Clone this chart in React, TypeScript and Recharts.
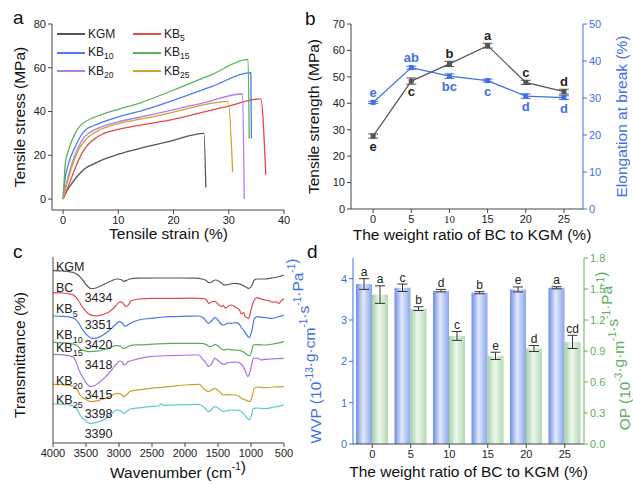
import React from "react";
import {
  LineChart, Line, BarChart, Bar, XAxis, YAxis, ErrorBar, LabelList, Legend, ReferenceDot,
} from "recharts";

const FONT = '"Liberation Sans", Arial, sans-serif';
const INK = "#444";
const BLUE = "#3f6fe4";
const GREEN = "#62ad62";

type Pt = [number, number];

// ---------- panel a: stress-strain curves (strain %, stress MPa)
const kgmCurve: Pt[] = [[0, 0], [0.5, 2.8], [1, 5], [1.6, 7.2], [2.5, 10.2], [4, 14], [5.5, 16], [7, 17.8], [10, 20.5], [14, 23.2], [19.5, 26.5], [25.5, 30], [25.85, 5.3]];
const kb5Curve: Pt[] = [[0, 0], [0.6, 3.5], [1.6, 10.2], [2.8, 17.8], [3.8, 22.5], [4.7, 25.4], [6, 28], [7, 29.5], [10, 31.8], [14, 33.8], [19.7, 36.3], [25, 39.5], [30, 42.5], [35.8, 45.8], [36.7, 11]];
const kb10Curve: Pt[] = [[0, 0], [0.3, 8], [1, 16.3], [2.2, 23.9], [3, 28], [4, 31.5], [5.5, 33.5], [7, 35], [10, 37.6], [14, 40.2], [19.7, 44.9], [27, 51.5], [34, 57.8], [34.1, 27.7]];
const kb15Curve: Pt[] = [[0, 0], [0.2, 8], [0.4, 16.3], [1, 22.4], [2.2, 30], [3, 33.2], [4, 35.3], [5.5, 37.2], [7, 38.6], [10, 41], [14, 44], [19.7, 49.5], [27, 57], [33.5, 63.8], [33.7, 27.7]];
const kb20Curve: Pt[] = [[0, 0], [0.5, 6], [1.6, 16.3], [2.8, 23.9], [3.8, 28.2], [4.7, 30.2], [7, 33], [10, 35.3], [14, 37.5], [19.5, 40.5], [25.4, 44], [32.5, 48], [32.8, 0]];
const kb25Curve: Pt[] = [[0, 0], [0.5, 5], [1.6, 14.8], [2.8, 22.4], [3.8, 26.3], [4.7, 28.6], [7, 32], [10, 34.5], [14, 36.5], [19.5, 39.4], [25.4, 43], [28, 44.2], [29.9, 44.6], [30.7, 12.3]];
const strainTicks = [0, 10, 20, 30, 40];
const stressTicks = [0, 20, 40, 60, 80];

// ---------- panel b: tensile strength / elongation vs BC ratio
const ratios = [0, 5, 10, 15, 20, 25];
const tensileStrength = [27.6, 48.4, 54.9, 61.8, 47.9, 44.4];
const tensileErr = [0.8, 1.2, 1.0, 0.9, 0.8, 0.9];
const elongation = [28.8, 38.2, 35.9, 34.7, 30.5, 30.1];
const elongationErr = [0.3, 0.4, 0.6, 0.4, 0.6, 0.5];
const tensileLetters = ["e", "c", "b", "a", "c", "d"];
const elongationLetters = ["e", "ab", "bc", "c", "d", "d"];
const tensileLetterSide = ["below", "below", "above", "above", "above", "above"];
const elongationLetterSide = ["above", "above", "below", "below", "below", "below"];
const strengthTicks = [0, 10, 20, 30, 40, 50, 60, 70];
const elongTicks = [0, 10, 20, 30, 40, 50];

// ---------- panel c: FTIR spectra (wavenumber, transmittance a.u.)
const kgmIR: Pt[] = [[4000, 86.2], [3850, 86], [3700, 85.3], [3620, 84], [3550, 81.5], [3480, 78.5], [3420, 77.2], [3350, 77.5], [3250, 79], [3120, 81], [3030, 82], [2960, 81.6], [2930, 80.8], [2880, 81.4], [2840, 82], [2700, 82.4], [2400, 82.5], [2100, 82.5], [1850, 82.4], [1740, 82], [1680, 81.3], [1640, 80.2], [1600, 80.5], [1540, 81.5], [1480, 80.8], [1420, 79.2], [1370, 79], [1320, 79.5], [1250, 79.8], [1180, 79.6], [1120, 78.8], [1060, 77.6], [1030, 77.3], [990, 78.5], [950, 81.5], [900, 82], [800, 82], [700, 82.4], [600, 83], [500, 84]];
const bcIR: Pt[] = [[4000, 75.2], [3850, 75], [3700, 74.2], [3620, 71.5], [3540, 67.3], [3440, 64.2], [3340, 63.5], [3240, 64.3], [3140, 65.8], [3050, 68.5], [2985, 70.6], [2940, 70], [2900, 68.3], [2870, 68.6], [2820, 71], [2700, 72], [2500, 72.3], [2200, 72.3], [1900, 72.4], [1720, 72.2], [1670, 71.5], [1645, 69.8], [1600, 70.5], [1550, 70.8], [1500, 69.5], [1450, 68.2], [1420, 68.8], [1390, 67.4], [1340, 68.5], [1300, 69], [1250, 68.2], [1200, 67.2], [1170, 66.2], [1150, 64.5], [1110, 65.2], [1090, 63.2], [1060, 62.6], [1040, 62.2], [1010, 65], [980, 69], [950, 71.5], [910, 72.7], [850, 72], [790, 71.5], [720, 71], [680, 70.4], [620, 70.6], [580, 69.8], [540, 71.2], [500, 72.3]];
const kb5IR: Pt[] = [[4000, 63.5], [3850, 63.3], [3700, 62.6], [3620, 60.5], [3560, 57], [3480, 53.8], [3410, 52.3], [3330, 52.6], [3240, 54], [3140, 56.5], [3060, 59], [2990, 60.7], [2950, 60], [2910, 58.3], [2870, 59], [2830, 59.8], [2700, 61.5], [2530, 62.3], [2230, 63.2], [1950, 63.4], [1800, 63.5], [1720, 62.5], [1680, 61], [1647, 59.8], [1600, 61], [1546, 62.7], [1500, 61.5], [1470, 60], [1420, 59], [1380, 59.5], [1330, 60], [1290, 59.8], [1240, 60.2], [1192, 59.8], [1160, 58.5], [1141, 57.3], [1110, 56.5], [1091, 55.3], [1060, 53.8], [1030, 52.7], [1000, 54.5], [975, 58], [950, 62.3], [900, 63.2], [820, 62.8], [750, 62.5], [690, 62.3], [600, 63], [500, 64]];
const kb10IR: Pt[] = [[4000, 50.3], [3850, 50.1], [3700, 49.6], [3620, 48.3], [3580, 46.8], [3500, 46], [3440, 45.7], [3340, 45.9], [3240, 46.5], [3130, 47.7], [3040, 48.7], [2980, 48.6], [2935, 47.3], [2880, 47.8], [2830, 48.7], [2700, 49.1], [2530, 49.3], [2230, 49.8], [1900, 49.8], [1750, 49.8], [1680, 49.2], [1621, 48.2], [1580, 48.6], [1546, 49.3], [1480, 48], [1420, 46.5], [1350, 46.8], [1243, 46.5], [1160, 46.2], [1100, 45.2], [1066, 44.3], [1020, 43.7], [990, 46], [965, 49], [900, 49.2], [788, 49], [650, 49.6], [511, 50.7], [500, 50.9]];
const kb15IR: Pt[] = [[4000, 44.3], [3850, 44.1], [3700, 43.2], [3650, 40.5], [3616, 37.3], [3560, 33.5], [3500, 30.2], [3440, 28.3], [3400, 28.3], [3300, 30.3], [3200, 33.2], [3111, 36.5], [3040, 39.5], [2985, 41], [2950, 40.5], [2925, 39], [2890, 39.5], [2860, 40.8], [2830, 41], [2700, 42.2], [2530, 43.2], [2230, 43.7], [1900, 44], [1800, 44], [1760, 43.2], [1723, 41.5], [1680, 40], [1647, 38.2], [1600, 39.5], [1546, 42.3], [1500, 41.2], [1445, 39.8], [1400, 39.3], [1350, 40.2], [1293, 40.3], [1240, 40.5], [1192, 40.3], [1150, 39.5], [1117, 38.2], [1080, 35.5], [1051, 33.2], [1020, 35], [990, 39], [965, 42.3], [900, 42.5], [850, 41.5], [788, 41.8], [700, 42], [600, 42.2], [511, 42.3], [500, 42.5]];
const kb20IR: Pt[] = [[4000, 29.3], [3850, 29.1], [3700, 28.5], [3630, 26.5], [3591, 24], [3500, 21.8], [3414, 20.7], [3330, 21.1], [3238, 22], [3130, 23.5], [3035, 24.8], [2980, 24.6], [2935, 23.2], [2880, 24.2], [2833, 25.8], [2700, 26.6], [2530, 27.3], [2227, 28.2], [2000, 29], [1788, 29.3], [1750, 28.5], [1723, 27.3], [1680, 26.3], [1647, 25.7], [1600, 26.5], [1546, 27.3], [1480, 25.8], [1420, 24], [1350, 24.2], [1243, 24], [1190, 23.5], [1141, 22.3], [1080, 21.5], [1015, 20.7], [985, 23], [950, 27.3], [900, 28], [788, 27.7], [650, 28], [511, 28.2], [500, 28.6]];
const kb25IR: Pt[] = [[4000, 19.5], [3850, 19.3], [3700, 18.7], [3630, 16.5], [3591, 14], [3500, 11], [3440, 9.8], [3340, 10.3], [3238, 11.5], [3130, 14], [3035, 16.5], [2980, 16.3], [2935, 14.8], [2880, 15.8], [2833, 17], [2700, 17.6], [2530, 18.2], [2400, 18.5], [2360, 19.6], [2330, 18.8], [2227, 19], [2000, 19.2], [1803, 19.3], [1760, 19], [1723, 18.2], [1680, 16.8], [1647, 15.7], [1600, 16.8], [1546, 18.2], [1480, 17], [1420, 15.7], [1350, 16.3], [1243, 16.5], [1180, 16.3], [1117, 14.8], [1060, 12.5], [1026, 11.5], [995, 13.5], [965, 17.2], [900, 17.5], [788, 17.2], [650, 18], [511, 19], [500, 19.3]];
const wnTicks = [4000, 3500, 3000, 2500, 2000, 1500, 1000, 500];
// sample labels [name, wavenumber, transmittance] and band labels
const irNameLabels: [string, number, number][] = [["KGM", 3955, 86], ["BC", 3955, 75.3], ["KB5", 3955, 64.8], ["KB10", 3955, 52], ["KB15", 3955, 45.5], ["KB20", 3955, 29], ["KB25", 3955, 19.5]];
const irBandLabels: [string, number, number][] = [["3434", 3310, 70.5], ["3351", 3310, 57.1], ["3420", 3310, 46.8], ["3418", 3310, 36.8], ["3415", 3310, 22.1], ["3398", 3310, 12.6], ["3390", 3310, 2.6]];

// ---------- panel d: WVP / OP bars
const wvp = [3.87, 3.78, 3.71, 3.66, 3.74, 3.78];
const wvpErr = [0.13, 0.09, 0.03, 0.025, 0.06, 0.025];
const op = [1.446, 1.31, 1.046, 0.853, 0.924, 0.988];
const opErr = [0.085, 0.018, 0.043, 0.035, 0.029, 0.064];
const wvpLetters = ["a", "c", "d", "b", "e", "a"];
const opLetters = ["a", "b", "c", "e", "d", "cd"];
const wvpTicks = [0, 1, 2, 3, 4];
const opTicks = [0, 0.3, 0.6, 0.9, 1.2, 1.5, 1.8];

const curvesA = [
  { name: "KGM", color: "#555555", data: kgmCurve },
  { name: "KB5", color: "#e24a4a", data: kb5Curve },
  { name: "KB10", color: "#4a7de8", data: kb10Curve },
  { name: "KB15", color: "#5db35d", data: kb15Curve },
  { name: "KB20", color: "#b07ee8", data: kb20Curve },
  { name: "KB25", color: "#cfa236", data: kb25Curve },
];

const spectra = [
  { name: "KGM", color: "#5a5a5a", data: kgmIR },
  { name: "BC", color: "#e04a4a", data: bcIR },
  { name: "KB5", color: "#4a78e6", data: kb5IR },
  { name: "KB10", color: "#5aab5a", data: kb10IR },
  { name: "KB15", color: "#a873e6", data: kb15IR },
  { name: "KB20", color: "#c9a02e", data: kb20IR },
  { name: "KB25", color: "#5cc9cc", data: kb25IR },
];

const tick = { fill: "#222", fontSize: 11, fontFamily: FONT };

const svgName = (name: string, size: number) => {
  const m = name.match(/^(KB)(\d+)$/);
  if (!m) return name;
  return [
    <tspan key="a">{m[1]}</tspan>,
    <tspan key="b" fontSize={size * 0.72} dy={size * 0.32}>{m[2]}</tspan>,
  ];
};

const htmlName = (name: string) => {
  const m = name.match(/^(KB)(\d+)$/);
  if (!m) return name;
  return (
    <>
      {m[1]}
      <span style={{ fontSize: "0.72em", position: "relative", top: "0.35em" }}>{m[2]}</span>
    </>
  );
};

const legendA = () => (
  <div style={{ display: "grid", gridTemplateColumns: "76px 76px", fontFamily: FONT, fontSize: 12, color: "#222" }}>
    {curvesA.map((c) => (
      <div key={c.name} style={{ display: "flex", alignItems: "center", height: 18.5, lineHeight: "18.5px" }}>
        <span style={{ display: "inline-block", width: 28, height: 2, background: c.color, marginRight: 3 }} />
        <span>{htmlName(c.name)}</span>
      </div>
    ))}
  </div>
);

const PanelA = () => (
  <LineChart width={316} height={242} margin={{ top: 24, right: 32, bottom: 2, left: 0 }}>
    <XAxis dataKey="strain" type="number" domain={[-2, 40]} ticks={strainTicks} allowDataOverflow height={30} tickSize={4} stroke={INK} tick={tick} />
    <XAxis xAxisId="top" orientation="top" type="number" domain={[-2, 40]} height={0} tick={false} tickLine={false} stroke={INK} />
    <YAxis type="number" domain={[-5, 80]} ticks={stressTicks} allowDataOverflow width={52} tickSize={4} stroke={INK} tick={tick} />
    <YAxis yAxisId="right" orientation="right" type="number" domain={[0, 1]} width={0} tick={false} tickLine={false} stroke={INK} />
    {curvesA.map((c) => (
      <Line key={c.name} name={c.name} data={c.data.map(([strain, stress]) => ({ strain, stress }))} dataKey="stress" type="monotone" stroke={c.color} strokeWidth={1.3} dot={false} isAnimationActive={false} />
    ))}
    <Legend layout="horizontal" verticalAlign="middle" align="center" content={legendA} wrapperStyle={{ position: "absolute", left: 57, top: 25, width: 160 }} />
  </LineChart>
);

const square = (color: string) => (p: any) => (
  <rect key={`d${p.index}`} x={p.cx - 2.5} y={p.cy - 2.5} width={5} height={5} fill={color} />
);

const letterB = (letters: string[], side: string[], color: string) => (p: any) => {
  const i = p.index;
  const below = side[i] === "below";
  return (
    <text key={`l${i}`} x={p.x} y={below ? p.y + 15 : p.y - 5.5} textAnchor="middle" fontSize={13} fontWeight="bold" fill={color} fontFamily={FONT}>
      {letters[i]}
    </text>
  );
};

const ratioTick = (p: any) => {
  const v = p.payload.value;
  return (
    <text x={p.x} y={p.y} dy="0.71em" textAnchor="middle" fill="#222" fontSize={11} fontFamily={v === 10 ? '"Liberation Serif", serif' : FONT}>
      {v}
    </text>
  );
};

const dataB = ratios.map((r, i) => ({
  ratio: r, ts: tensileStrength[i], tsErr: tensileErr[i], el: elongation[i], elErr: elongationErr[i],
}));

const PanelB = () => (
  <LineChart width={317} height={242} data={dataB} margin={{ top: 24, right: 0, bottom: 3, left: 0 }}>
    <XAxis dataKey="ratio" type="number" domain={[-2.9, 27.5]} ticks={ratios} allowDataOverflow height={30} tickSize={4} stroke={INK} tick={ratioTick} />
    <XAxis xAxisId="top" orientation="top" type="number" domain={[-2.9, 27.5]} height={0} tick={false} tickLine={false} stroke="#777" />
    <YAxis yAxisId="l" type="number" domain={[0, 70]} ticks={strengthTicks} width={35} tickSize={4} stroke={INK} tick={tick} />
    <YAxis yAxisId="r" orientation="right" type="number" domain={[0, 50]} ticks={elongTicks} width={50} tickSize={4} stroke={BLUE} tick={{ ...tick, fill: BLUE }} />
    <Line yAxisId="l" dataKey="ts" stroke="#555" strokeWidth={1.2} dot={square("#555")} isAnimationActive={false}>
      <ErrorBar dataKey="tsErr" width={5} stroke="#555" strokeWidth={1} />
      <LabelList dataKey="ts" content={letterB(tensileLetters, tensileLetterSide, "#222")} />
    </Line>
    <Line yAxisId="r" dataKey="el" stroke={BLUE} strokeWidth={1.2} dot={square(BLUE)} isAnimationActive={false}>
      <ErrorBar dataKey="elErr" width={5} stroke={BLUE} strokeWidth={1} />
      <LabelList dataKey="el" content={letterB(elongationLetters, elongationLetterSide, BLUE)} />
    </Line>
  </LineChart>
);

const PanelC = () => (
  <LineChart width={316} height={242} margin={{ top: 15, right: 32, bottom: 11, left: 0 }}>
    <XAxis dataKey="wn" type="number" domain={[500, 4000]} reversed ticks={wnTicks} allowDataOverflow height={30} tickSize={4} stroke={INK} tick={tick} />
    <XAxis xAxisId="top" orientation="top" type="number" domain={[500, 4000]} reversed height={0} tick={false} tickLine={false} stroke={INK} />
    <YAxis type="number" domain={[0, 93]} width={53} tick={false} tickLine={false} stroke={INK} allowDataOverflow />
    <YAxis yAxisId="right" orientation="right" type="number" domain={[0, 1]} width={0} tick={false} tickLine={false} stroke={INK} />
    {spectra.map((s) => (
      <Line key={s.name} data={s.data.map(([wn, t]) => ({ wn, t }))} dataKey="t" type="monotone" stroke={s.color} strokeWidth={1.2} dot={false} isAnimationActive={false} />
    ))}
    {irNameLabels.map(([name, wn, t]) => (
      <ReferenceDot key={name} x={wn} y={t} r={0} shape={(p: any) => (
        <text x={p.cx} y={p.cy} fontSize={12.5} fill="#222" fontFamily={FONT}>{svgName(name, 12.5)}</text>
      )} />
    ))}
    {irBandLabels.map(([label, wn, t]) => (
      <ReferenceDot key={label} x={wn} y={t} r={0} shape={(p: any) => (
        <text x={p.cx} y={p.cy} textAnchor="middle" fontSize={12.5} fill="#222" fontFamily={FONT}>{label}</text>
      )} />
    ))}
  </LineChart>
);

const letterD = (letters: string[], values: number[], errs: number[]) => (p: any) => {
  const i = p.index;
  const pxPerUnit = p.height / values[i];
  const top = p.y - errs[i] * pxPerUnit;
  return (
    <text key={`t${i}`} x={p.x + p.width / 2} y={top - 2.5} textAnchor="middle" fontSize={12} fill="#222" fontFamily={FONT}>
      {letters[i]}
    </text>
  );
};

const dataD = ratios.map((r, i) => ({ ratio: String(r), wvp: wvp[i], wvpErr: wvpErr[i], op: op[i], opErr: opErr[i] }));

const PanelD = () => (
  <BarChart width={317} height={242} data={dataD} margin={{ top: 16, right: 0, bottom: 10, left: 0 }} barGap={0} barSize={16}>
    <defs>
      <linearGradient id="gBlue" x1="0" y1="0" x2="1" y2="0">
        <stop offset="0%" stopColor="#6d8de6" />
        <stop offset="45%" stopColor="#e2e9fb" />
        <stop offset="100%" stopColor="#8aa5ec" />
      </linearGradient>
      <linearGradient id="gGreen" x1="0" y1="0" x2="1" y2="0">
        <stop offset="0%" stopColor="#a3d1a3" />
        <stop offset="45%" stopColor="#eef7ee" />
        <stop offset="100%" stopColor="#b3d9b3" />
      </linearGradient>
    </defs>
    <XAxis dataKey="ratio" height={30} tickSize={4} stroke={INK} tick={tick} />
    <XAxis xAxisId="top" orientation="top" dataKey="ratio" height={0} tick={false} tickLine={false} stroke="#777" />
    <YAxis yAxisId="l" type="number" domain={[0, 4.5]} ticks={wvpTicks} width={37} tickSize={4} stroke={BLUE} tick={{ ...tick, fill: BLUE }} />
    <YAxis yAxisId="r" orientation="right" type="number" domain={[0, 1.8]} ticks={opTicks} tickFormatter={(v: number) => v.toFixed(1)} width={49} tickSize={4} stroke={GREEN} tick={{ ...tick, fill: GREEN }} />
    <Bar yAxisId="l" dataKey="wvp" fill="url(#gBlue)" isAnimationActive={false}>
      <ErrorBar dataKey="wvpErr" width={5} stroke="#333" strokeWidth={1} />
      <LabelList dataKey="wvp" content={letterD(wvpLetters, wvp, wvpErr)} />
    </Bar>
    <Bar yAxisId="r" dataKey="op" fill="url(#gGreen)" isAnimationActive={false}>
      <ErrorBar dataKey="opErr" width={5} stroke="#333" strokeWidth={1} />
      <LabelList dataKey="op" content={letterD(opLetters, op, opErr)} />
    </Bar>
  </BarChart>
);

const T = 15.5;
const sup = (s: string, key: string) => [
  <tspan key={key + "s"} fontSize={T * 0.65} dy={-T * 0.38}>{s}</tspan>,
  <tspan key={key + "r"} dy={T * 0.38}></tspan>,
];

const Titles = () => (
  <svg width={633} height={484} style={{ position: "absolute", left: 0, top: 0, pointerEvents: "none" }} fontFamily={FONT}>
    <g fontSize={19} fill="#111">
      <text x={13} y={23.5}>a</text>
      <text x={305} y={25}>b</text>
      <text x={13} y={257.5}>c</text>
      <text x={307} y={258}>d</text>
    </g>
    <g fontSize={T} fill="#111" textAnchor="middle" dominantBaseline="central">
      <text x={168.5} y={233}>Tensile strain (%)</text>
      <text transform="translate(19,117) rotate(-90)">Tensile stress (MPa)</text>
      <text x={472} y={234}>The weight ratio of BC to KGM (%)</text>
      <text transform="translate(313,116.5) rotate(-90)">Tensile strength (MPa)</text>
      <text transform="translate(621,116.5) rotate(-90)" fill={BLUE}>Elongation at break (%)</text>
      <text x={178} y={472}>Wavenumber (cm{sup("-1", "a")})</text>
      <text transform="translate(19,355) rotate(-90)">Transmittance (%)</text>
      <text x={468.5} y={471}>The weight ratio of BC to KGM (%)</text>
      <text transform="translate(315,351) rotate(-90)" fill={BLUE}>
        WVP (10{sup("-13", "a")}·g·cm{sup("-1", "b")}·s{sup("-1", "c")}·Pa{sup("-1", "d")})
      </text>
      <text transform="translate(624,351) rotate(-90)" fill={GREEN}>
        OP (10{sup("-3", "a")}·g·m{sup("-1", "b")}·s{sup("-1", "c")}·Pa{sup("-1", "d")})
      </text>
    </g>
  </svg>
);

export default function App() {
  return (
    <div style={{ position: "absolute", left: 0, top: 0, width: 633, height: 484, background: "#fff", fontFamily: FONT }}>
      <div style={{ position: "absolute", left: 0, top: 0 }}><PanelA /></div>
      <div style={{ position: "absolute", left: 316, top: 0 }}><PanelB /></div>
      <div style={{ position: "absolute", left: 0, top: 242 }}><PanelC /></div>
      <div style={{ position: "absolute", left: 316, top: 242 }}><PanelD /></div>
      <Titles />
    </div>
  );
}
